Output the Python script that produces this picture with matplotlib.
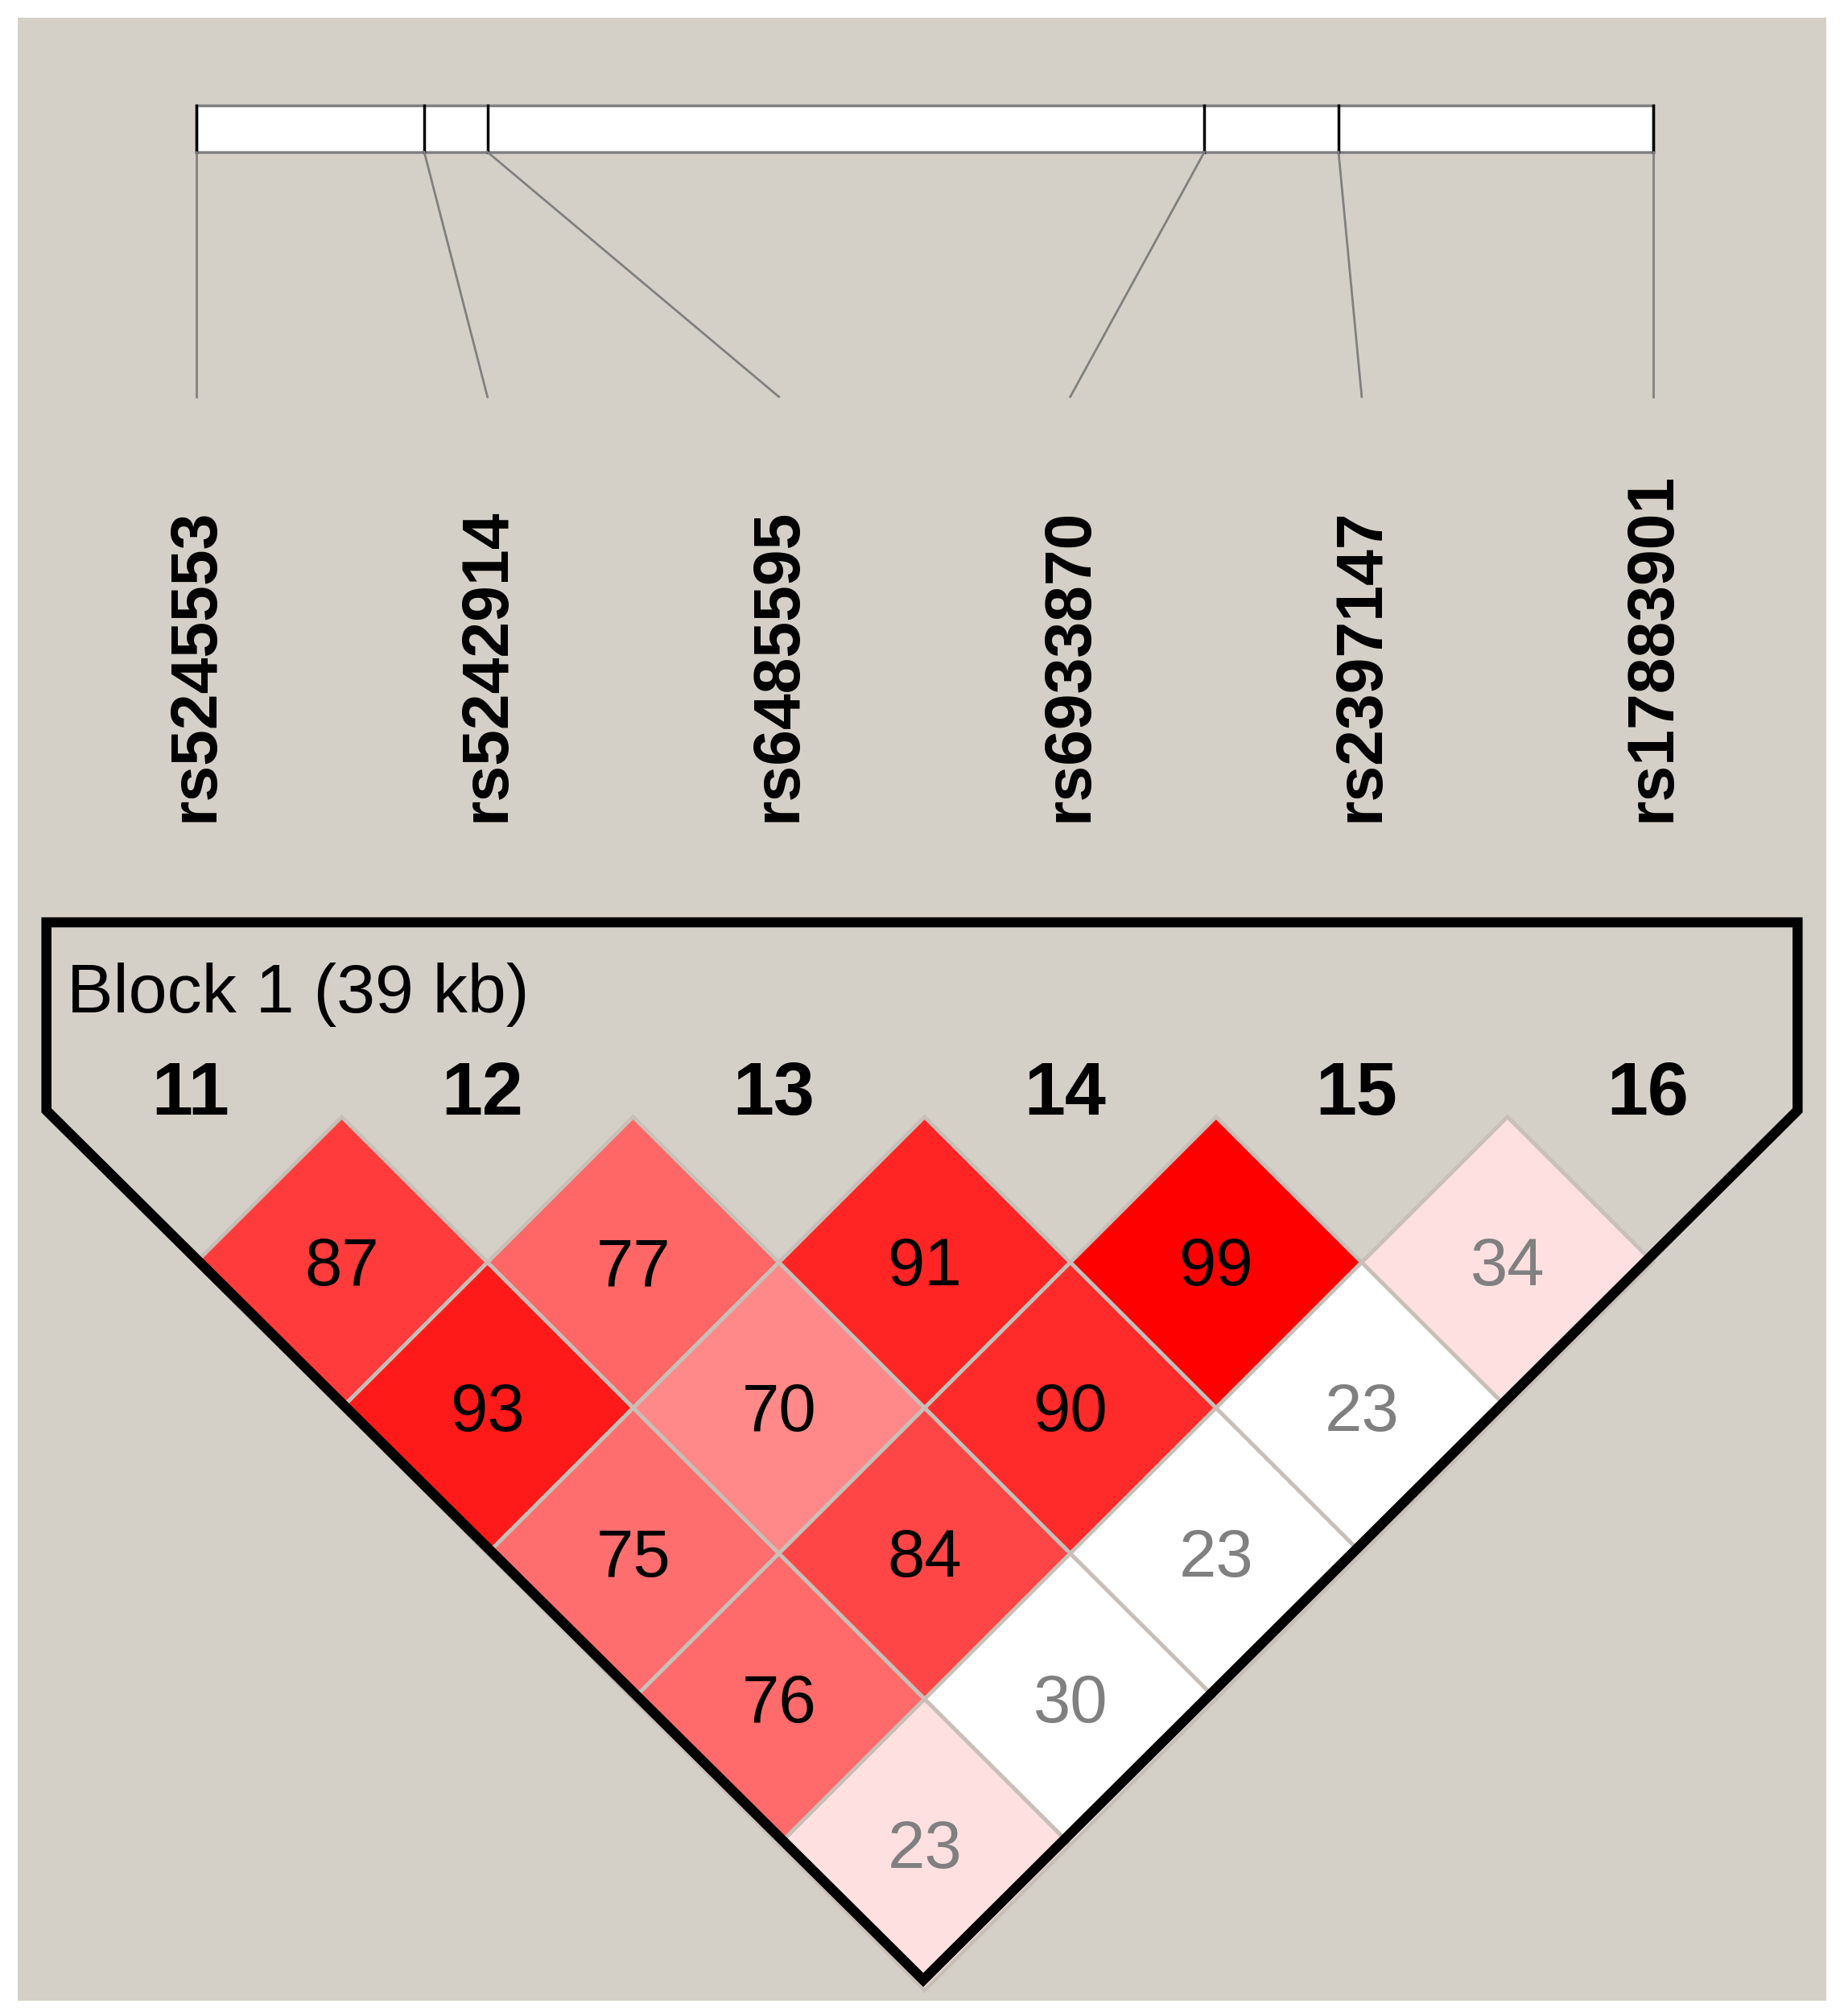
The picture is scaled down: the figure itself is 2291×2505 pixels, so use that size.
import matplotlib
matplotlib.use("Agg")
import matplotlib.pyplot as plt
from matplotlib.patches import Polygon, Rectangle

# SNP names, physical positions on the bar (relative), label positions
snp_names = ["rs5245553", "rs5242914", "rs6485595", "rs6933870", "rs2397147", "rs17883901"]
marker_ids = ["11", "12", "13", "14", "15", "16"]
bar_pos = [152, 329, 378, 934, 1038, 1282]
label_x = [152, 378, 604, 830, 1056, 1282]

# pairwise D' values (x100), keyed by (i, j)
ld_values = {
    (0, 1): 87, (1, 2): 77, (2, 3): 91, (3, 4): 99, (4, 5): 34,
    (0, 2): 93, (1, 3): 70, (2, 4): 90, (3, 5): 23,
    (0, 3): 75, (1, 4): 84, (2, 5): 23,
    (0, 4): 76, (1, 5): 30,
    (0, 5): 23,
}
cell_colors = {
    (0, 1): "#FF3B3B", (1, 2): "#FF6666", (2, 3): "#FF2525", (3, 4): "#FF0000", (4, 5): "#FFE0E0",
    (0, 2): "#FF1A1A", (1, 3): "#FF8888", (2, 4): "#FF2A2A", (3, 5): "#FFFFFF",
    (0, 3): "#FF6E6E", (1, 4): "#FF4646", (2, 5): "#FFFFFF",
    (0, 4): "#FF6A6A", (1, 5): "#FFFFFF",
    (0, 5): "#FFE0E0",
}

W, H = 1430, 1565
fig = plt.figure(figsize=(22.91, 25.05), dpi=100)
ax = fig.add_axes([0, 0, 1, 1])
ax.set_xlim(0, W)
ax.set_ylim(H, 0)
ax.axis("off")
fig.patch.set_facecolor("white")
ax.add_patch(Rectangle((14, 14), 1402, 1539, facecolor="#D4D0C8", edgecolor="none"))

fam = ["Liberation Sans", "DejaVu Sans"]

# top bar
ax.add_patch(Rectangle((bar_pos[0], 82), bar_pos[-1] - bar_pos[0], 36,
                       facecolor="white", edgecolor="#808080", lw=2.5))
for bp, lx, name in zip(bar_pos, label_x, snp_names):
    ax.plot([bp, bp], [82, 118], color="black", lw=2.5)
    ax.plot([bp, lx], [118, 308], color="#808080", lw=2)
    ax.text(lx, 638, name, rotation=90, ha="center", va="bottom",
            fontsize=58, fontweight="bold", family=fam)

# LD cells
half = 113
for (i, j), v in ld_values.items():
    cx = (label_x[i] + label_x[j]) / 2
    cy = 980 + (j - i - 1) * half
    ax.add_patch(Polygon([(cx, cy - half), (cx + half, cy), (cx, cy + half), (cx - half, cy)],
                         closed=True, facecolor=cell_colors[(i, j)], edgecolor="#C8C0B8", lw=3.5))
    ax.text(cx, cy + 4, str(v), ha="center", va="center", fontsize=60, family=fam,
            color="black" if v >= 50 else "#808080")

# block outline
ax.add_patch(Polygon([(36, 716), (1394, 716), (1394, 862), (716, 1537), (36, 862)],
                     closed=True, facecolor="none", edgecolor="black", lw=9, joinstyle="miter"))
ax.text(52, 772, "Block 1 (39 kb)", ha="left", va="center", fontsize=62, family=fam)
for lx, mid in zip(label_x, marker_ids):
    ax.text(lx - 4, 850, mid, ha="center", va="center", fontsize=66, fontweight="bold", family=fam)

fig.savefig("out.png", dpi=100)
